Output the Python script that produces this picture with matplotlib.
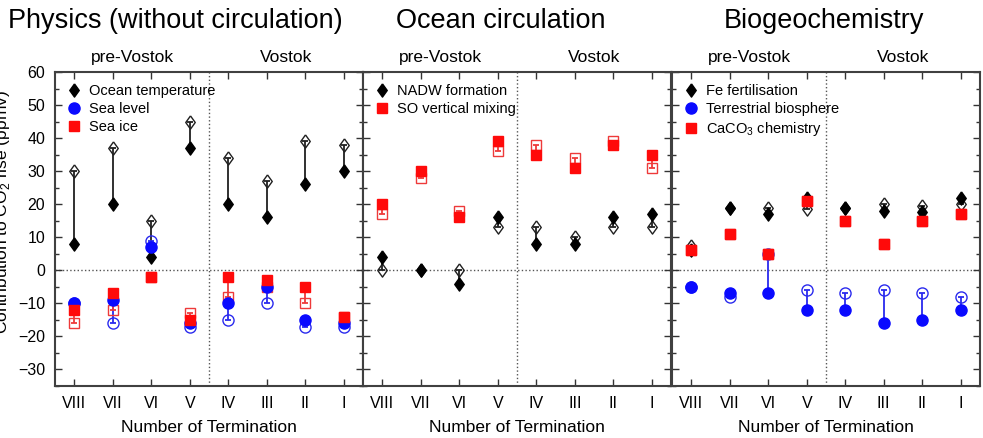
import matplotlib
matplotlib.use('Agg')
import matplotlib.pyplot as plt
from matplotlib.lines import Line2D
from matplotlib.ticker import MultipleLocator
import matplotlib.transforms as mtransforms
import numpy as np

plt.rcParams['font.family'] = ['Liberation Sans', 'DejaVu Sans']
plt.rcParams['mathtext.fontset'] = 'custom'
plt.rcParams['mathtext.rm'] = 'Liberation Sans'

terminations = ['VIII', 'VII', 'VI', 'V', 'IV', 'III', 'II', 'I']
panel_titles = ['Physics (without circulation)', 'Ocean circulation', 'Biogeochemistry']

# physics (filled = one estimate, open = the other)
ocean_temp = [8, 20, 4, 37, 20, 16, 26, 30]
ocean_temp_open = [30, 37, 15, 45, 34, 27, 39, 38]
sea_level = [-10, -9, 7, -16, -10, -5, -15, -16]
sea_level_open = [-10, -16, 9, -17, -15, -10, -17, -17]
sea_ice = [-12, -7, -2, -15, -2, -3, -5, -14]
sea_ice_open = [-16, -12, -2, -13, -8, -5, -10, -14]

# ocean circulation
nadw = [4, 0, -4, 16, 8, 8, 16, 17]
nadw_open = [0, 0, 0, 13, 13, 10, 13, 13]
so_mixing = [20, 30, 16, 39, 35, 31, 38, 35]
so_mixing_open = [17, 28, 18, 36, 38, 34, 39, 31]

# biogeochemistry
fe_fert = [6, 19, 17, 22, 19, 18, 17.5, 22]
fe_fert_open = [7.5, 19, 19, 18.5, 19, 20, 19.5, 20]
terr_bio = [-5, -7, -7, -12, -12, -16, -15, -12]
terr_bio_open = [-5, -8, 5, -6, -7, -6, -7, -8]
caco3 = [6, 11, 5, 21, 15, 8, 15, 17]
caco3_open = [6, 11, 5, 21, 15, 8, 15, 17]

diamond = [(0, 1), (0.72, 0), (0, -1), (-0.72, 0), (0, 1)]
styles = {
    'diamond': dict(marker=diamond, ms=9.5, color='black', open_color='#202020'),
    'circle': dict(marker='o', ms=8, color='#0a0aff', open_color='#2a2aee'),
    'square': dict(marker='s', ms=7.6, color='#ff0a0a', open_color='#ee3a3a'),
}

panels = [
    [('Ocean temperature', 'diamond', ocean_temp, ocean_temp_open),
     ('Sea level', 'circle', sea_level, sea_level_open),
     ('Sea ice', 'square', sea_ice, sea_ice_open)],
    [('NADW formation', 'diamond', nadw, nadw_open),
     ('SO vertical mixing', 'square', so_mixing, so_mixing_open)],
    [('Fe fertilisation', 'diamond', fe_fert, fe_fert_open),
     ('Terrestrial biosphere', 'circle', terr_bio, terr_bio_open),
     ('CaCO$_3$ chemistry', 'square', caco3, caco3_open)],
]

fig = plt.figure(figsize=(9.83, 4.38), dpi=100)
W, H = 983, 438
x = np.arange(1, len(terminations) + 1)
lefts = [55, 363, 672]
title_x = [175, 501, 824]

for i, series in enumerate(panels):
    ax = fig.add_axes([lefts[i] / W, 52 / H, 308 / W, 314 / H])
    ax.axhline(0, color='#555555', ls=':', lw=1, zorder=0)
    ax.axvline(4.5, color='#555555', ls=':', lw=1, zorder=0)
    handles = []
    for label, kind, filled, opened in series:
        st = styles[kind]
        ax.vlines(x, filled, opened, color=st['open_color'], lw=1.3, zorder=2)
        ax.plot(x, opened, ls='none', marker='_', ms=5, mew=1.3,
                color=st['open_color'], zorder=2)
        ax.plot(x, opened, ls='none', marker=st['marker'], ms=st['ms'],
                mfc='none', mec=st['open_color'], mew=1.0, zorder=2)
        ax.plot(x, filled, ls='none', marker=st['marker'], ms=st['ms'],
                color=st['color'], mec=st['color'], zorder=3)
        handles.append(Line2D([], [], ls='none', marker=st['marker'],
                              ms=st['ms'], color=st['color'], label=label))
    ax.legend(handles=handles, loc='upper left', frameon=False, fontsize=10.5,
              handlelength=1.0, handletextpad=0.55, labelspacing=0.3,
              borderpad=0.8, borderaxespad=0)

    ax.set_xlim(0.5, 8.5)
    ax.set_ylim(-35, 60)
    ax.set_xticks(x)
    ax.set_xticklabels(terminations)
    ax.yaxis.set_major_locator(MultipleLocator(10))
    ax.yaxis.set_minor_locator(MultipleLocator(5))
    ax.tick_params(which='both', direction='in', top=True, right=True,
                   labelsize=11.5, pad=7, color='#333333')
    ax.tick_params(which='major', length=5, width=1)
    ax.tick_params(which='minor', length=3, width=1)
    if i > 0:
        ax.set_yticklabels([])
    for sp in ax.spines.values():
        sp.set_color('#404040')
        sp.set_linewidth(1.5)
    ax.set_xlabel('Number of Termination', fontsize=12.5, labelpad=7)

    trans = mtransforms.blended_transform_factory(ax.transData, ax.transAxes)
    ax.text(2.5, 1.045, 'pre-Vostok', transform=trans, ha='center',
            va='center', fontsize=12.5)
    ax.text(6.5, 1.045, 'Vostok', transform=trans, ha='center',
            va='center', fontsize=12.5)

    fig.text(title_x[i] / W, 1 - 21 / H, panel_titles[i], ha='center',
             va='center', fontsize=19.5)

fig.text(12 / W, 0.515, 'Contribution to CO$_2$ rise (ppmv)', rotation=90,
         ha='right', va='center', fontsize=12.5)

fig.savefig('out.png', dpi=100)
